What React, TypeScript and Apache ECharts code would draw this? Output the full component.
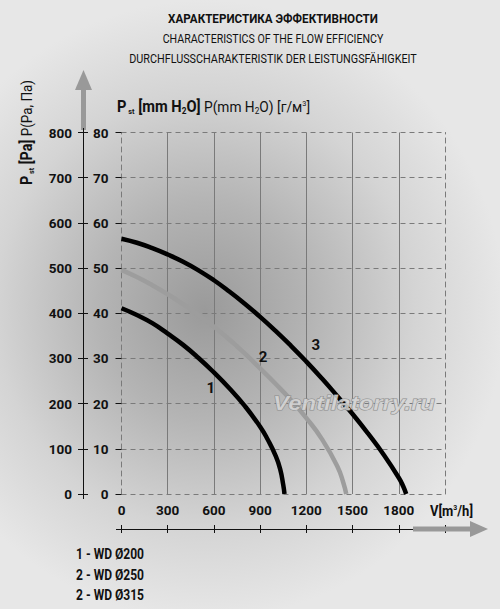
import React, { useEffect, useRef } from "react";
import * as echarts from "echarts";

const FONT = "Roboto";

const titleLines = [
  "ХАРАКТЕРИСТИКА ЭФФЕКТИВНОСТИ",
  "CHARACTERISTICS OF THE FLOW EFFICIENCY",
  "DURCHFLUSSCHARAKTERISTIK DER LEISTUNGSFÄHIGKEIT",
];

const flowMin = 0;
const flowMax = 2100;
const flowStep = 300;
const paMin = 0;
const paMax = 800;
const paStep = 100;
const mmMin = 0;
const mmMax = 80;
const mmStep = 10;

const curve1Flow = [0, 100, 200, 300, 400, 500, 600, 700, 800, 900, 950, 1000, 1030, 1050, 1058];
const curve1Pa = [411, 396, 378, 355, 330, 301, 269, 234, 195, 149, 120, 85, 55, 20, 0];
const curve2Flow = [0, 100, 200, 300, 400, 500, 600, 700, 800, 900, 1000, 1100, 1200, 1300, 1400, 1440, 1459];
const curve2Pa = [496, 480, 462, 442, 420, 396, 370, 342, 311, 278, 244, 208, 168, 122, 62, 25, 0];
const curve3Flow = [0, 100, 200, 300, 400, 500, 600, 700, 800, 900, 1000, 1100, 1200, 1300, 1400, 1500, 1600, 1700, 1800, 1830, 1848];
const curve3Pa = [565, 556, 544, 530, 514, 495, 473, 448, 421, 392, 361, 328, 293, 256, 217, 177, 134, 88, 36, 16, 0];

const curveNames = ["1", "2", "3"];
const curveColors = ["#000000", "#9d9d9d", "#000000"];
const curveLabelFlow = [580, 919, 1261];
const curveLabelPa = [234, 304, 330];

const legendLines = ["1 - WD Ø200", "2 - WD Ø250", "2 - WD Ø315"];
const watermark = "Ventilatorry.ru";

const zip = (xs: number[], ys: number[]) => xs.map((x, i) => [x, ys[i]]);

let measureCtx: CanvasRenderingContext2D | null = null;
function measure(text: string, size: number, weight: string, family = FONT, style = "normal") {
  if (!measureCtx) measureCtx = document.createElement("canvas").getContext("2d");
  if (!measureCtx) return 0;
  measureCtx.font = `${style} ${weight} ${size}px ${family}`;
  return measureCtx.measureText(text).width;
}
function fitScale(width: number, target: number) {
  return width > 0 ? target / width : 1;
}

export default function App() {
  const ref = useRef<HTMLDivElement>(null);

  useEffect(() => {
    document.body.style.margin = "0";
    if (!ref.current) return;
    const chart = echarts.init(ref.current, undefined, { renderer: "svg" });

    const labelStyle = {
      fontFamily: FONT,
      fontSize: 13.5,
      fontWeight: "bold" as const,
      color: "#111",
    };
    const gridDash = { color: "#7a7a7a", width: 1, type: [5, 4] as number[] };
    const blackLine = { color: "#111", width: 1 };

    const curves = [zip(curve1Flow, curve1Pa), zip(curve2Flow, curve2Pa), zip(curve3Flow, curve3Pa)];

    const series = curves.map((data, i) => ({
      type: "line",
      name: curveNames[i],
      xAxisIndex: 0,
      yAxisIndex: 0,
      data,
      smooth: 0.5,
      showSymbol: false,
      symbol: "none",
      lineStyle: { color: curveColors[i], width: 4.5, cap: "butt" },
      z: 5,
      markPoint: {
        symbol: "circle",
        symbolSize: 1,
        itemStyle: { color: "rgba(0,0,0,0)" },
        label: {
          show: true,
          position: "inside",
          formatter: curveNames[i],
          fontFamily: FONT,
          fontSize: 15,
          fontWeight: "bold",
          color: "#111",
        },
        data: [{ coord: [curveLabelFlow[i], curveLabelPa[i]], value: curveNames[i] }],
      },
    }));

    const titleSpec = [
      { y: 18.5, size: 12, weight: "bold", width: 210 },
      { y: 39, size: 12.5, weight: "normal", width: 221 },
      { y: 58.5, size: 12.5, weight: "normal", width: 288 },
    ];
    const titleGraphics = titleLines.map((t, i) => {
      const s = titleSpec[i];
      return {
        type: "text",
        x: 273,
        y: s.y,
        scaleX: fitScale(measure(t, s.size, s.weight), s.width),
        style: {
          text: t,
          fontFamily: FONT,
          fontSize: s.size,
          fontWeight: s.weight,
          fill: "#111",
          align: "center",
          verticalAlign: "middle",
        },
      };
    });

    const paNameWidth =
      measure("P", 16, "bold") +
      measure(" st", 8, "bold") +
      measure(" [Pa]", 16, "bold") +
      measure(" P(Pa, Па)", 15, "normal");
    const mmNameWidth =
      measure("P", 16, "bold") +
      measure(" st", 8, "bold") +
      measure(" [mm H", 16, "bold") +
      measure("2", 9, "bold") +
      measure("O]", 16, "bold") +
      measure(" P(mm H", 15, "normal") +
      measure("2", 9, "normal") +
      measure("O) [г/м", 15, "normal") +
      measure("3", 8, "normal") +
      measure("]", 15, "normal");
    const vNameWidth = measure("V[m", 15, "bold") + measure("3", 8, "bold") + measure("/h]", 15, "bold");
    const wmWidth = measure(watermark, 20, "bold", "'Liberation Sans'", "italic");

    const graphic: any[] = [
      ...titleGraphics,
      {
        type: "text",
        x: 27,
        y: 132.5,
        rotation: Math.PI / 2,
        scaleX: fitScale(paNameWidth, 105),
        style: {
          text: "{b|P}{sub| st}{b| [Pa]}{r| P(Pa, Па)}",
          align: "center",
          verticalAlign: "middle",
          rich: {
            b: { fontFamily: FONT, fontSize: 16, fontWeight: "bold", fill: "#111" },
            sub: { fontFamily: FONT, fontSize: 8, fontWeight: "bold", fill: "#111", verticalAlign: "bottom" },
            r: { fontFamily: FONT, fontSize: 15, fill: "#111" },
          },
        },
      },
      {
        type: "text",
        x: 117,
        y: 107,
        scaleX: fitScale(mmNameWidth, 193),
        style: {
          text: "{b|P}{sub| st}{b| [mm H}{bsub|2}{b|O]}{r| P(mm H}{rsub|2}{r|O) [г/м}{sup|3}{r|]}",
          align: "left",
          verticalAlign: "middle",
          rich: {
            b: { fontFamily: FONT, fontSize: 16, fontWeight: "bold", fill: "#111" },
            sub: { fontFamily: FONT, fontSize: 8, fontWeight: "bold", fill: "#111", verticalAlign: "bottom" },
            bsub: { fontFamily: FONT, fontSize: 9, fontWeight: "bold", fill: "#111", verticalAlign: "bottom" },
            rsub: { fontFamily: FONT, fontSize: 9, fill: "#111", verticalAlign: "bottom" },
            sup: { fontFamily: FONT, fontSize: 8, fill: "#111", verticalAlign: "top" },
            r: { fontFamily: FONT, fontSize: 15, fill: "#111" },
          },
        },
      },
      {
        type: "text",
        x: 430,
        y: 510.5,
        scaleX: fitScale(vNameWidth, 43),
        style: {
          text: "{b|V[m}{sup|3}{b|/h]}",
          align: "left",
          verticalAlign: "middle",
          rich: {
            b: { fontFamily: FONT, fontSize: 15, fontWeight: "bold", fill: "#111" },
            sup: { fontFamily: FONT, fontSize: 8, fontWeight: "bold", fill: "#111", verticalAlign: "top" },
          },
        },
      },
      // vertical arrow
      {
        type: "rect",
        shape: { x: 81, y: 88, width: 5, height: 42 },
        style: { fill: "#999999" },
      },
      {
        type: "polygon",
        shape: { points: [[75, 90], [92, 90], [83.5, 70]] },
        style: { fill: "#999999" },
      },
      // horizontal arrow
      {
        type: "rect",
        shape: { x: 413, y: 526.5, width: 59, height: 5 },
        style: { fill: "#999999" },
        z: 10,
      },
      {
        type: "polygon",
        shape: { points: [[470, 521], [470, 537], [488, 529]] },
        style: { fill: "#999999" },
        z: 10,
      },
      // short extensions of the outer axis lines beyond the grid
      {
        type: "line",
        shape: { x1: 116, y1: 529.5, x2: 122, y2: 529.5 },
        style: { stroke: "#111", lineWidth: 1 },
      },
      {
        type: "line",
        shape: { x1: 83.5, y1: 128, x2: 83.5, y2: 499 },
        style: { stroke: "#111", lineWidth: 1 },
      },
      // watermark
      {
        type: "text",
        x: 354,
        y: 403,
        z: 20,
        scaleX: fitScale(wmWidth, 162),
        style: {
          text: watermark,
          fontFamily: "'Liberation Sans', sans-serif",
          fontSize: 20,
          fontStyle: "italic",
          fontWeight: "bold",
          fill: "rgba(215,215,215,0.85)",
          stroke: "#8c8c8c",
          lineWidth: 1,
          align: "center",
          verticalAlign: "middle",
        },
      },
      ...legendLines.map((t, i) => ({
        type: "text",
        x: 76,
        y: 553.5 + i * 20.5,
        scaleX: fitScale(measure(t, 15, "bold"), 68),
        style: {
          text: t,
          fontFamily: FONT,
          fontSize: 15,
          fontWeight: "bold",
          fill: "#111",
          align: "left",
          verticalAlign: "middle",
        },
      })),
    ];

    chart.setOption({
      animation: false,
      grid: {
        left: 121.5,
        right: 55,
        top: 132.5,
        bottom: 115,
        containLabel: false,
        outerBoundsMode: "none",
      },
      xAxis: [
        {
          type: "value",
          min: flowMin,
          max: flowMax,
          interval: flowStep,
          position: "bottom",
          axisLine: { show: false, onZero: false },
          axisTick: { show: false },
          axisLabel: { ...labelStyle, margin: 9, showMaxLabel: false, formatter: (v: number) => String(v) },
          splitLine: {
            show: true,
            showMinLine: false,
            showMaxLine: false,
            lineStyle: { color: "#7a7a7a", width: 1, type: "solid" },
          },
        },
        {
          type: "value",
          min: flowMin,
          max: flowMax,
          interval: flowStep,
          position: "bottom",
          offset: 35,
          axisLine: { show: true, onZero: false, lineStyle: blackLine },
          axisTick: { show: true, length: 4, lineStyle: { color: "#111" } },
          axisLabel: { show: false },
          splitLine: { show: false },
        },
        {
          type: "value",
          min: flowMin,
          max: flowMax,
          interval: flowStep,
          position: "bottom",
          offset: 35,
          axisLine: { show: false, onZero: false },
          axisTick: { show: true, inside: true, length: 4, lineStyle: { color: "#111" } },
          axisLabel: { show: false },
          splitLine: { show: false },
        },
      ],
      yAxis: [
        {
          type: "value",
          min: paMin,
          max: paMax,
          interval: paStep,
          position: "left",
          offset: 38.5,
          axisLine: { show: true, onZero: false, lineStyle: blackLine },
          axisTick: { show: true, length: 5, lineStyle: { color: "#111" } },
          axisLabel: { ...labelStyle, margin: 11, formatter: (v: number) => String(v) },
          splitLine: { show: true, lineStyle: gridDash },
        },
        {
          type: "value",
          min: mmMin,
          max: mmMax,
          interval: mmStep,
          position: "left",
          offset: 0,
          axisLine: { show: true, onZero: false, lineStyle: gridDash },
          axisTick: { show: true, length: 6, lineStyle: { color: "#111" } },
          axisLabel: { ...labelStyle, margin: 13 },
          splitLine: { show: false },
        },
        {
          type: "value",
          min: paMin,
          max: paMax,
          interval: paStep,
          position: "left",
          offset: 38.5,
          axisLine: { show: false, onZero: false },
          axisTick: { show: true, inside: true, length: 5, lineStyle: { color: "#111" } },
          axisLabel: { show: false },
          splitLine: { show: false },
        },
        {
          type: "value",
          min: paMin,
          max: paMax,
          interval: paStep,
          position: "right",
          axisLine: { show: true, onZero: false, lineStyle: gridDash },
          axisTick: { show: false },
          axisLabel: { show: false },
          splitLine: { show: false },
        },
      ],
      series,
      graphic,
    });

    return () => chart.dispose();
  }, []);

  return (
    <div
      ref={ref}
      style={{
        width: 500,
        height: 609,
        background:
          "radial-gradient(ellipse 300px 310px at 205px 310px, #9a9a9a 0%, #b4b4b4 35%, #d4d4d4 70%, #e7e7e7 100%)",
      }}
    />
  );
}
